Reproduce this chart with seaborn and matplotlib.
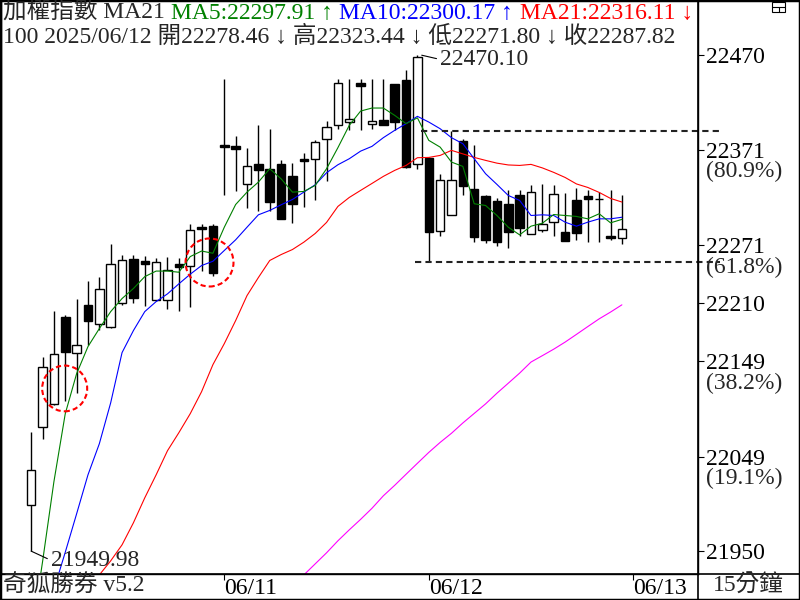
import numpy as np
import pandas as pd
import matplotlib
matplotlib.use('Agg')
import matplotlib.pyplot as plt
from matplotlib.patches import Ellipse, Rectangle
from matplotlib.lines import Line2D
import seaborn as sns

# 15-minute bars, 06/10 (tail) .. 06/12
opens = [21998.5, 22080.5, 22104.3, 22196.0, 22157.8, 22208.6, 22188.3, 22185.5, 22210.0, 22256.5,
         22254.0, 22213.5, 22213.5, 22251.6, 22249.5, 22289.7, 22290.5,
         22375.5, 22374.5, 22334.6, 22355.6, 22351.0, 22356.3, 22343.0, 22360.8, 22361.5,
         22382.5, 22397.2, 22400.0, 22440.9, 22398.3, 22401.8, 22439.5, 22443.8, 22356.3,
         22362.6, 22285.5, 22302.7, 22380.0, 22329.3, 22322.3, 22316.7, 22314.3, 22323.0,
         22282.8, 22287.0, 22295.0, 22284.5, 22317.8, 22322.0, 22319.6, 22281.0, 22278.46]
highs = [22075.2, 22153.2, 22202.3, 22198.0, 22214.5, 22233.8, 22237.2, 22272.3, 22261.0, 22261.0,
         22260.0, 22257.6, 22258.2, 22256.9, 22293.3, 22293.3, 22293.3,
         22444.8, 22385.0, 22373.0, 22396.5, 22392.3, 22359.8, 22357.3, 22367.8, 22380.8,
         22400.7, 22445.5, 22445.5, 22445.5, 22445.5, 22445.5, 22440.3, 22455.0, 22470.10,
         22363.0, 22345.8, 22390.2, 22382.5, 22376.2, 22324.0, 22320.2, 22328.3, 22328.3,
         22333.5, 22335.3, 22334.5, 22325.8, 22331.0, 22329.0, 22326.5, 22328.3, 22323.44]
lows = [21949.98, 22067.9, 22103.0, 22107.8, 22115.8, 22166.6, 22182.0, 22184.0, 22208.0, 22210.0,
        22207.5, 22212.0, 22204.0, 22201.5, 22205.7, 22244.3, 22239.0,
        22323.0, 22328.0, 22310.0, 22306.5, 22306.5, 22298.0, 22293.9, 22310.7, 22317.8,
        22338.0, 22393.0, 22391.3, 22391.3, 22393.0, 22396.5, 22391.3, 22352.0, 22351.0,
        22253.5, 22281.0, 22302.0, 22324.0, 22274.7, 22272.9, 22269.8, 22267.7, 22281.0,
        22282.5, 22284.5, 22280.3, 22275.0, 22276.8, 22274.0, 22274.7, 22275.8, 22271.80]
closes = [22035.3, 22143.5, 22156.8, 22158.5, 22165.8, 22191.0, 22225.0, 22251.3, 22255.5, 22215.6,
          22251.3, 22253.0, 22245.0, 22247.7, 22287.0, 22287.6, 22241.8,
          22373.4, 22372.0, 22354.2, 22350.0, 22316.0, 22298.5, 22314.3, 22359.0, 22379.0,
          22394.7, 22441.3, 22403.5, 22437.5, 22400.7, 22397.2, 22400.0, 22352.7, 22468.5,
          22284.5, 22338.8, 22338.8, 22332.8, 22279.2, 22276.8, 22274.7, 22284.5, 22288.7,
          22326.5, 22293.3, 22324.8, 22275.0, 22283.4, 22319.5, 22319.4, 22278.6, 22287.82]

ma5 = [21860, 21938.7, 22022.7, 22094.1, 22136.1, 22164.5, 22183.4, 22201.2, 22214.9, 22225.4,
       22237.9, 22243.7, 22243.7, 22242.5, 22258.9, 22264.7, 22262.4, 22289.7, 22313.5, 22326.5,
       22337.0, 22351.0, 22340.5, 22326.5, 22327.2, 22333.5, 22351.0, 22373.1, 22396.5, 22411.5,
       22414.7, 22414.7, 22407.0, 22398.3, 22404.4, 22380.8, 22373.7, 22358.0, 22353.5, 22314.3,
       22312.5, 22302.0, 22289.7, 22281.7, 22290.8, 22293.9, 22303.0, 22302.0, 22301.0, 22298.5,
       22303.8, 22294.3, 22297.91]
ma10 = [21829.5, 21868.8, 21909.8, 21948.8, 21989.1, 22030.0, 22062.6, 22105.6, 22158.2, 22181.3,
        22201.2, 22211.7, 22219.8, 22230.3, 22240.4, 22249.5, 22254.0, 22265.3, 22276.5, 22289.7,
        22302.7, 22307.3, 22313.2, 22318.8, 22326.5, 22334.2, 22346.8, 22355.2, 22361.5, 22369.5,
        22374.5, 22383.6, 22391.3, 22398.3, 22406.0, 22400.0, 22393.0, 22383.6, 22377.3, 22361.5,
        22345.8, 22334.6, 22323.0, 22317.8, 22302.0, 22302.7, 22302.0, 22295.0, 22290.8, 22295.0,
        22298.5, 22298.5, 22300.17]
ma21 = [21816, 21833, 21851, 21868, 21886, 21904, 21925, 21939.8, 21956.6, 21979.7,
        22005.9, 22030.0, 22055.3, 22074.2, 22094.1, 22117.2, 22145.6, 22167.6, 22191.8, 22218.0,
        22236.9, 22254.8, 22261.0, 22266.3, 22274.0, 22283.1, 22294.7, 22311.5, 22320.9, 22328.3,
        22335.6, 22343.0, 22349.3, 22354.5, 22362.6, 22362.9, 22365.0, 22370.3, 22366.6, 22362.9,
        22359.8, 22356.9, 22355.0, 22354.5, 22355.6, 22351.9, 22347.2, 22341.9, 22335.1, 22331.4,
        22326.2, 22319.9, 22316.11]
ma_long = [None] * 23 + [21912, 21925, 21936.6, 21948.2, 21960.8, 21972.3, 21983.3, 21994.9,
                         22008.0, 22019.0, 22030.6, 22042.1, 22053.5, 22064.0, 22073.6, 22084.4,
                         22094.4, 22104.4, 22115.6, 22126.1, 22136.7, 22148.3, 22155.0, 22161.8,
                         22169.2, 22177.3, 22185.5, 22193.6, 22200.7, 22208.3]

tick_vals = [22470, 22371, 22271, 22210, 22149, 22049, 21950]
tick_pct = ['', '(80.9%)', '(61.8%)', '', '(38.2%)', '(19.1%)', '']
day_labels = ['06/11', '06/12', '06/13']
day_starts = [17, 35, 53]
upper_dash = 22390.2
lower_dash = 22253.5

sns.set_theme(style='white', rc={'axes.edgecolor': 'black', 'axes.linewidth': 1})
plt.rcParams['font.family'] = ['Liberation Serif', 'Noto Sans CJK TC', 'DejaVu Sans']
FS = 17

fig = plt.figure(figsize=(8, 6), dpi=100)
ax = fig.add_axes([0.5 / 800, 1 - 574 / 600, 697.5 / 800, 574 / 600])

x = np.arange(len(closes))
df = pd.DataFrame({'bar': x, 'o': opens, 'h': highs, 'l': lows, 'c': closes})
up = df.c >= df.o

# candles
ax.vlines(df.bar, df.l, df.h, color='black', lw=1, zorder=2)
ax.bar(df.bar, (df.c - df.o).abs(), bottom=np.minimum(df.o, df.c), width=0.75,
       color=np.where(up, 'white', 'black'), edgecolor='black', linewidth=1, zorder=3)

# moving averages
ma_df = pd.DataFrame({'bar': x, 'MA5': ma5, 'MA10': ma10, 'MA21': ma21,
                      'MAL': pd.Series(ma_long, dtype=float)})
for col, colr in [('MAL', '#FF00FF'), ('MA21', '#FF0000'), ('MA10', '#0000FF'), ('MA5', '#008000')]:
    sns.lineplot(data=ma_df, x='bar', y=col, color=colr, lw=0.8, ax=ax, zorder=4, legend=False)

ax.set_xlim(-2.7, 58.7)
ax.set_ylim(21926, 22528)
ax.set_xlabel('')
ax.set_ylabel('')

# dashed high/low lines of 06/12
ax.plot([34.3, 60.6], [upper_dash, upper_dash], ls=(0, (3, 2)), color='#222222', lw=1.5, clip_on=False, zorder=5)
ax.plot([33.8, 60.6], [lower_dash, lower_dash], ls=(0, (3, 2)), color='#222222', lw=1.5, clip_on=False, zorder=5)

# dashed red circles
for cx, cy, w, h in [(2.95, 22120.6, 3.96, 48.0), (15.7, 22252.7, 4.22, 50.4)]:
    ax.add_patch(Ellipse((cx, cy), w, h, fill=False, ec='red', lw=1.5, ls=(0, (2.5, 1.5)), zorder=6))

# high / low labels
hi_i = int(np.argmax(highs))
lo_i = int(np.argmin(lows))
ax.annotate(f'{highs[hi_i]:.2f}', xy=(hi_i + 0.38, highs[hi_i]), xytext=(13, -3),
            textcoords='offset points', ha='left', va='center', fontsize=FS, zorder=7,
            arrowprops=dict(arrowstyle='-', color='black', lw=0.8, shrinkA=0, shrinkB=0, relpos=(0, 0.5)))
ax.annotate(f'{lows[lo_i]:.2f}', xy=(lo_i, lows[lo_i]), xytext=(14, -6.5),
            textcoords='offset points', ha='left', va='center', fontsize=FS, zorder=7,
            arrowprops=dict(arrowstyle='-', color='black', lw=0.8, shrinkA=0, shrinkB=0, relpos=(0, 0.5)))

# right price axis
ax.yaxis.tick_right()
ax.set_yticks(tick_vals)
ax.set_yticklabels([str(v) for v in tick_vals])
ax.tick_params(axis='y', which='both', right=True, left=False, direction='out', length=4.5,
               width=0.8, pad=1.5, labelsize=FS, colors='black')
for v, p in zip(tick_vals, tick_pct):
    if p:
        ax.annotate(p, xy=(1, v), xycoords=('axes fraction', 'data'), xytext=(5.8, -16),
                    textcoords='offset points', ha='left', va='center', fontsize=FS,
                    annotation_clip=False)

# date axis
ax.set_xticks(day_starts)
ax.set_xticklabels(day_labels)
ax.tick_params(axis='x', bottom=True, direction='out', length=4, width=0.8, pad=-1,
               labelsize=FS, colors='black')
for lab in ax.get_xticklabels():
    lab.set_ha('left')

# header lines
t1 = fig.text(3 / 800, 1 - 13 / 600, '加權指數 MA21', fontsize=FS, va='center', ha='left')
prev = t1
for s, colr in [(f'MA5:{ma5[-1]:.2f} ↑', '#008000'), (f'MA10:{ma10[-1]:.2f} ↑', '#0000FF'),
                (f'MA21:{ma21[-1]:.2f} ↓', '#FF0000')]:
    prev = ax.annotate(s, xy=(1, 0.5), xycoords=prev, xytext=(4.5, 0), textcoords='offset points',
                       va='center', ha='left', color=colr, fontsize=FS, annotation_clip=False)
fig.text(3 / 800, 1 - 37 / 600,
         f'100 2025/06/12 開{opens[-1]:.2f} ↓ 高{highs[-1]:.2f} ↓ 低{lows[-1]:.2f} ↓ 收{closes[-1]:.2f}',
         fontsize=FS, va='center', ha='left')

# bottom strip & frame
fig.text(3 / 800, 1 - 586 / 600, '奇狐勝券 v5.2', fontsize=FS, va='center', ha='left')
fig.text(748 / 800, 1 - 586 / 600, '15分鐘', fontsize=FS, va='center', ha='center')
fig.add_artist(Line2D([0, 1], [1 - 574 / 600] * 2, color='black', lw=1.2, transform=fig.transFigure))
fig.add_artist(Line2D([698 / 800] * 2, [0, 1], color='black', lw=1.2, transform=fig.transFigure))
fig.add_artist(Rectangle((0, 0), 1, 1, fill=False, ec='black', lw=2.5, transform=fig.transFigure))

# small window icon top right
fig.add_artist(Rectangle((772 / 800, 1 - 11.7 / 600), 13 / 800, 10 / 600, fill=False, ec='black',
                         lw=0.8, transform=fig.transFigure))
fig.add_artist(Line2D([772 / 800, 785 / 800], [1 - 6.7 / 600] * 2, color='black', lw=0.8,
                      transform=fig.transFigure))
fig.add_artist(Line2D([778.5 / 800] * 2, [1 - 6.7 / 600, 1 - 11.7 / 600], color='black', lw=0.8,
                      transform=fig.transFigure))

fig.savefig('out.png', dpi=100)
